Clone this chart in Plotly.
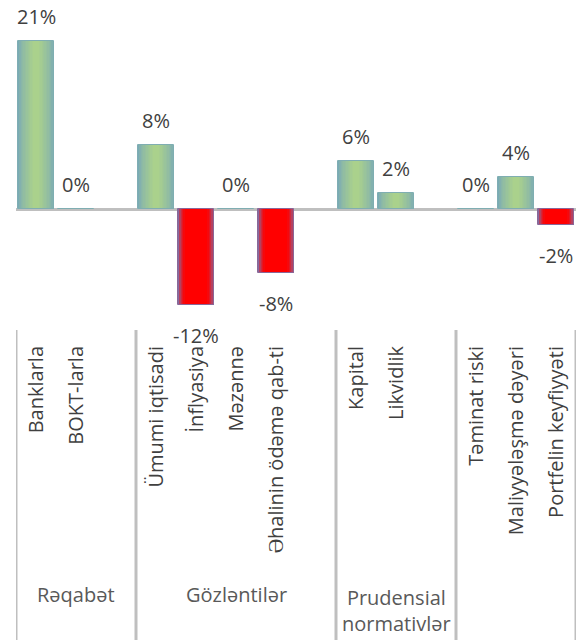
import plotly.graph_objects as go

# Survey factors (slots with an empty name are spacing between groups)
categories = ["Banklarla", "BOKT-larla", "",
              "Ümumi iqtisadi", "İnflyasiya", "Məzənnə", "Əhalinin ödəmə qab-ti", "",
              "Kapital", "Likvidlik", "",
              "Təminat riski", "Maliyyələşmə dəyəri", "Portfelin keyfiyyəti"]
values = [21, 0, None,
          8, -12, 0, -8, None,
          6, 2, None,
          0, 4, -2]
groups = ["Rəqabət", "Gözləntilər", "Prudensial<br>normativlər", ""]
group_spans = [(0, 2), (3, 7), (8, 10), (11, 13)]

FONT = "Open Sans"
TEXT = "#404040"
GRID = "#bfbfbf"

pos_edge, pos_mid = (122, 170, 182), (170, 209, 140)
neg_edge, neg_mid = (132, 108, 160), (255, 0, 0)


def mix(a, b, t):
    return "rgb(%d,%d,%d)" % tuple(round(a[i] + (b[i] - a[i]) * t) for i in range(3))


idx = [i for i, v in enumerate(values) if v is not None]
vals = [values[i] for i in idx]

fig = go.Figure()

# Shaded bars: concentric layers, lighter toward the middle
n_layers = 12
for k in range(n_layers):
    f = k / (n_layers - 1)
    w = 0.9 - f * 0.75
    t_pos = f ** 0.7
    t_neg = min(1.0, f * 2.4) ** 0.6
    fig.add_trace(go.Bar(
        x=idx, y=vals, width=w,
        marker=dict(color=[mix(pos_edge, pos_mid, t_pos) if v >= 0 else mix(neg_edge, neg_mid, t_neg)
                           for v in vals], line=dict(width=0)),
        hoverinfo="skip", showlegend=False,
    ))
# Thin outline around each bar
fig.add_trace(go.Bar(
    x=idx, y=vals, width=0.9,
    marker=dict(color="rgba(0,0,0,0)",
                line=dict(width=1, color=[mix(pos_edge, pos_mid, 0.1) if v >= 0
                                          else mix(neg_edge, neg_mid, 0.05) for v in vals])),
    hoverinfo="skip", showlegend=False,
))

# Value labels
for i, v in zip(idx, vals):
    fig.add_annotation(x=i, y=v, text=f"{v}%", showarrow=False,
                       yshift=25 if v >= 0 else -30,
                       font=dict(family=FONT, size=20, color=TEXT))

# Group separators and group names below the axis
bounds = [group_spans[0][0] - 0.5] + [e + 0.5 for _, e in group_spans]
for b in bounds:
    fig.add_shape(type="line", xref="x", yref="paper", x0=b, x1=b, y0=0, y1=-0.94,
                  line=dict(color=GRID, width=3))
for name, (s, e) in zip(groups, group_spans):
    if name:
        two_line = "<br>" in name
        fig.add_annotation(x=(s + e) / 2, xref="x", y=-0.8, yref="paper",
                           text=name, showarrow=False,
                           yanchor="top" if two_line else "middle",
                           yshift=12 if two_line else 0,
                           font=dict(family=FONT, size=20, color="#595959"))

fig.update_layout(
    width=582, height=640,
    margin=dict(l=16, r=6, t=0, b=310),
    barmode="overlay", bargap=0,
    plot_bgcolor="white", paper_bgcolor="white",
    font=dict(family=FONT, size=20, color=TEXT),
    xaxis=dict(range=[-0.5, 13.5], tickmode="array",
               tickvals=idx, ticktext=[categories[i] for i in idx],
               tickangle=-90, showgrid=False, zeroline=False, showline=False,
               ticks="", ticklabelstandoff=11,
               tickfont=dict(family=FONT, size=20, color=TEXT)),
    yaxis=dict(range=[-15.125, 26.125], visible=True, showticklabels=False,
               showgrid=False, zeroline=True, zerolinecolor=GRID, zerolinewidth=3,
               showline=False, ticks=""),
)

fig.write_html("out.html")
